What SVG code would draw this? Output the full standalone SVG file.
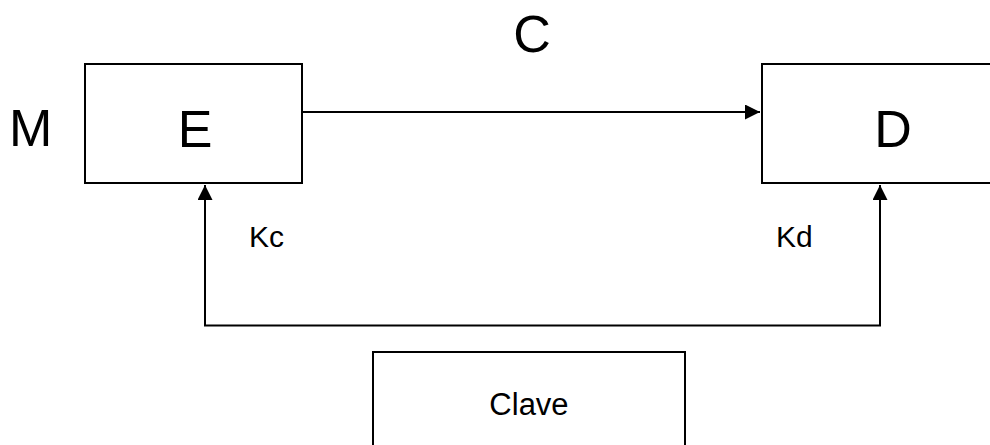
<svg xmlns="http://www.w3.org/2000/svg" width="990" height="445" viewBox="0 0 990 445">
<style>
.box{fill:#fff;stroke:#000;stroke-width:2}
.ln{fill:none;stroke:#000;stroke-width:2}
.big{font-family:"Liberation Sans",Arial,sans-serif;font-size:52px;fill:#000}
.sm{font-family:"Liberation Sans",Arial,sans-serif;font-size:30px;fill:#000}
</style>
<defs>
<marker id="ah" viewBox="0 0 15 15" refX="15" refY="7.5" markerWidth="15" markerHeight="15" markerUnits="userSpaceOnUse" orient="auto">
<path d="M0,0 L15,7.5 L0,15 Z" fill="#000"/>
</marker>
</defs>
<g id="connectors">
<line class="ln" x1="302" y1="112" x2="760" y2="112" marker-end="url(#ah)"/>
<polyline class="ln" points="205,325.5 205,185" marker-end="url(#ah)"/>
<polyline class="ln" points="204,325.5 880,325.5 880,185" marker-end="url(#ah)"/>
</g>
<g id="node-E">
<rect class="box" x="85" y="64" width="217" height="119"/>
<text class="big" x="195" y="147" text-anchor="middle">E</text>
</g>
<g id="node-D">
<rect class="box" x="762" y="64" width="262" height="119"/>
<text class="big" x="893" y="147" text-anchor="middle">D</text>
</g>
<g id="node-Clave">
<rect class="box" x="373" y="352" width="312" height="120"/>
<text class="sm" x="529" y="415" text-anchor="middle" style="font-size:31px">Clave</text>
</g>
<g id="labels">
<text class="big" x="9" y="146">M</text>
<text class="big" x="532" y="52" text-anchor="middle">C</text>
<text class="sm" x="249" y="247">Kc</text>
<text class="sm" x="776" y="247">Kd</text>
</g>
</svg>
